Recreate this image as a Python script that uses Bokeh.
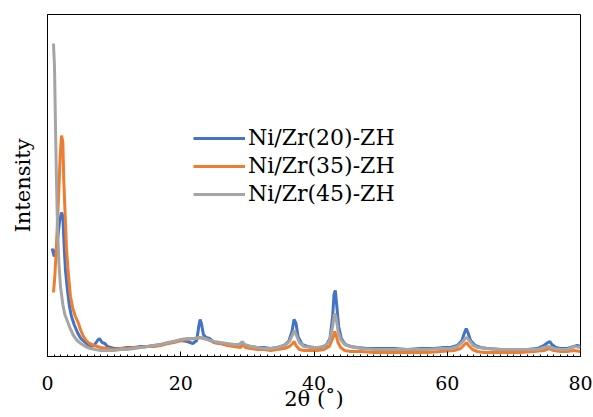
from bokeh.plotting import figure
from bokeh.models import Range1d, FixedTicker, Legend, LegendItem
from bokeh.embed import file_html
from bokeh.resources import INLINE

# 2theta (deg) and intensity (a.u.) for each sample
x20 = [0.7, 1.0, 1.4, 1.8, 2.1, 2.3, 2.5, 2.7, 3.0, 3.3, 3.6, 4.0, 4.5, 5.0, 5.5, 6.0, 6.5, 7.0, 7.5, 7.8,
       8.2, 8.6, 9.0, 10, 11, 12, 13, 14, 15, 16, 17, 18, 19, 20, 21, 21.8, 22.4, 22.7, 22.9, 23.1,
       23.4, 23.8, 24.3, 25, 26, 27, 28, 28.8, 29.2, 29.6, 30.5, 31.5, 32.5, 33.5, 34.5, 35.5, 36.2, 36.7, 37.0, 37.3,
       37.6, 38.2, 39, 40, 41, 41.8, 42.4, 42.8, 43.0, 43.2, 43.4, 43.7, 44.1, 44.7, 45.5, 46.5, 48, 50, 52, 54,
       56, 58, 59.5, 60.5, 61.5, 62.2, 62.6, 62.85, 63.1, 63.5, 64.2, 65, 66, 68, 70, 72, 73.5, 74.5, 75.1, 75.4,
       75.7, 76.3, 77, 78, 79, 79.5, 80]
y20 = [108, 100, 110, 135, 144, 140, 110, 86, 66, 50, 40, 32, 24, 18, 15, 12, 10, 11, 16, 18,
       14, 13, 10, 8, 8, 9, 9, 10, 10, 11, 12, 13, 15, 16, 15, 13, 16, 30, 37, 33,
       22, 19, 18, 14, 13, 12, 11, 12, 14, 11, 10, 9, 9, 8, 9, 11, 15, 25, 37, 33,
       20, 12, 10, 9, 9, 11, 18, 40, 62, 66, 52, 30, 18, 12, 10, 9, 8, 8, 8, 7,
       8, 8, 9, 9, 11, 16, 24, 28, 24, 16, 11, 9, 8, 7, 7, 7, 8, 11, 14, 15,
       12, 9, 8, 8, 10, 11, 10]

x35 = [0.9, 1.1, 1.3, 1.6, 1.9, 2.1, 2.3, 2.45, 2.6, 2.85, 3.1, 3.45, 3.8, 4.2, 4.6, 5.0, 5.4, 5.8, 6.3, 7.0,
       8, 9, 10, 11, 12, 13, 14, 15, 16, 17, 18, 19, 20, 21, 22, 23, 24, 25, 26, 27,
       28, 29, 29.3, 29.7, 30.5, 31.5, 32.5, 33.5, 34.5, 35.5, 36.3, 36.8, 37.0, 37.3, 37.8, 38.5, 39.5, 40.5, 41.5, 42.3,
       42.8, 43.1, 43.3, 43.6, 44.0, 44.6, 45.5, 47, 49, 51, 53, 55, 57, 59, 61, 62, 62.6, 62.9, 63.2, 63.8,
       64.5, 65.5, 67, 69, 71, 73, 74.5, 75.3, 76, 77, 78, 79, 80]
y35 = [64, 80, 105, 150, 200, 221, 215, 175, 150, 108, 85, 60, 48, 40, 34, 26, 20, 16, 13, 11,
       9, 8, 7, 8, 8, 9, 9, 10, 10, 11, 13, 14, 16, 17, 18, 19, 17, 14, 13, 11,
       10, 9, 12, 9, 8, 7, 7, 6, 7, 8, 10, 13, 15, 11, 7, 6, 6, 6, 7, 10,
       18, 25, 22, 14, 9, 6, 5, 5, 4, 4, 4, 4, 4, 5, 6, 8, 12, 14, 11, 7,
       5, 4, 4, 4, 4, 5, 6, 8, 6, 5, 5, 6, 5]

x45 = [0.9, 1.05, 1.2, 1.35, 1.5, 1.7, 1.95, 2.3, 2.6, 2.95, 3.4, 3.9, 4.45, 5.0, 5.7, 6.45, 7.2, 8, 9, 10,
       11, 12, 13, 14, 15, 16, 17, 18, 19, 20, 21, 22, 23, 24, 25, 26, 27, 28, 28.9, 29.2,
       29.6, 30.5, 31.5, 32.5, 33.5, 34.5, 35.5, 36.3, 36.8, 37.05, 37.3, 37.8, 38.5, 39.5, 40.5, 41.5, 42.3, 42.8, 43.1, 43.3,
       43.6, 44.0, 44.6, 45.5, 47, 49, 51, 53, 55, 57, 59, 60.5, 61.5, 62.2, 62.7, 62.95, 63.3, 63.9, 64.6, 66,
       68, 70, 72, 73.5, 74.5, 75.2, 76, 77, 78, 78.7, 79.2, 80]
y45 = [313, 290, 230, 175, 130, 95, 70, 52, 42, 36, 28, 21, 16, 13, 10, 8, 7, 6, 6, 6,
       7, 7, 8, 9, 10, 11, 12, 14, 15, 17, 18, 18, 19, 17, 15, 14, 13, 12, 12, 15,
       12, 10, 9, 8, 8, 9, 11, 15, 22, 26, 22, 14, 10, 9, 9, 10, 15, 30, 43, 40,
       26, 17, 12, 10, 8, 7, 7, 7, 7, 7, 8, 8, 10, 14, 18, 19, 16, 11, 9, 8,
       7, 7, 7, 7, 9, 10, 8, 7, 7, 9, 10, 9]

labels = ["Ni/Zr(20)-ZH", "Ni/Zr(35)-ZH", "Ni/Zr(45)-ZH"]
x_ticks = [0, 20, 40, 60, 80]

FONT = "DejaVu Serif"

p = figure(width=593, height=417, output_backend="svg", toolbar_location=None,
           x_range=Range1d(0, 80), y_range=Range1d(0, 342),
           min_border_left=47, min_border_right=13, min_border_top=14, min_border_bottom=61)
p.grid.visible = False
p.outline_line_color = "black"
p.outline_line_width = 1
p.background_fill_color = "white"
p.border_fill_color = "white"

colors = ["#4472C4", "#ED7D31", "#A5A5A5"]
r1 = p.line(x20, y20, line_color=colors[0], line_width=3)
r2 = p.line(x35, y35, line_color=colors[1], line_width=3)
r3 = p.line(x45, y45, line_color=colors[2], line_width=3)

legend = Legend(items=[LegendItem(label=labels[0], renderers=[r1]),
                       LegendItem(label=labels[1], renderers=[r2]),
                       LegendItem(label=labels[2], renderers=[r3])],
                location=(146, 150), orientation="vertical",
                border_line_color=None, background_fill_alpha=0,
                padding=0, margin=0, spacing=3,
                glyph_width=52, glyph_height=20, label_height=20, label_standoff=3,
                label_text_font=FONT, label_text_font_size="22px", label_text_color="black")
p.add_layout(legend, "center")

xa = p.xaxis[0]
xa.ticker = FixedTicker(ticks=x_ticks, minor_ticks=list(range(0, 81)))
xa.major_tick_in = 5
xa.major_tick_out = 0
xa.minor_tick_in = 2
xa.minor_tick_out = 0
xa.axis_line_color = "black"
xa.major_label_text_font = FONT
xa.major_label_text_font_size = "19px"
xa.major_label_text_color = "black"
xa.major_label_standoff = 19
xa.axis_label = "2θ (˚)"
xa.axis_label_text_font = FONT
xa.axis_label_text_font_size = "21px"
xa.axis_label_text_font_style = "normal"
xa.axis_label_text_color = "black"
xa.axis_label_standoff = -6

ya = p.yaxis[0]
ya.ticker = FixedTicker(ticks=[])
ya.major_tick_in = 0
ya.major_tick_out = 0
ya.minor_tick_in = 0
ya.minor_tick_out = 0
ya.axis_line_color = "black"
ya.axis_label = "Intensity"
ya.axis_label_text_font = FONT
ya.axis_label_text_font_size = "21px"
ya.axis_label_text_font_style = "normal"
ya.axis_label_text_color = "black"
ya.axis_label_standoff = 13

open("out.html", "w").write(file_html(p, INLINE))
